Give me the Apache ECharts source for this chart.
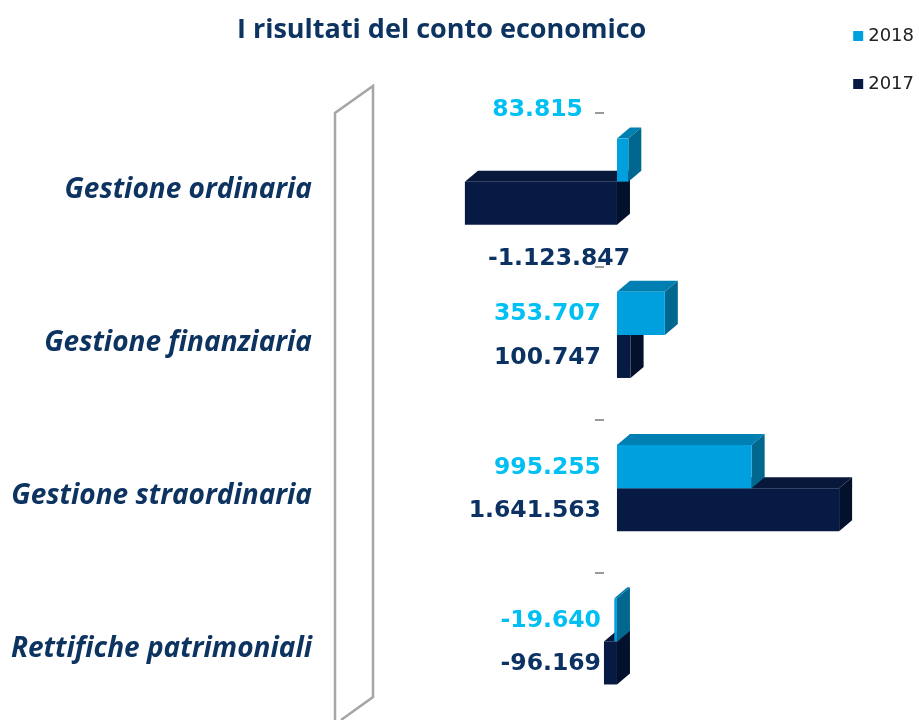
<!DOCTYPE html>
<html><head><meta charset="utf-8">
<script src="https://cdn.jsdelivr.net/npm/echarts@6/dist/echarts.min.js"></script>
<style>html,body{margin:0;padding:0;background:#fff}#c{width:919px;height:720px}</style>
</head><body><div id="c"></div>
<script>
const categories = ['Gestione ordinaria', 'Gestione finanziaria', 'Gestione straordinaria', 'Rettifiche patrimoniali'];
const seriesNames = ['2018', '2017'];
const values2018 = [83815, 353707, 995255, -19640];
const values2017 = [-1123847, 100747, 1641563, -96169];

const faces = {
  '2018': {front: '#00a0df', top: '#0080b2', side: '#00688f', label: '#00bff3'},
  '2017': {front: '#061a44', top: '#08183a', side: '#04112c', label: '#0c3263'}
};

function fmt(v) {
  const s = Math.abs(Math.round(v)).toString().replace(/\B(?=(\d{3})+(?!\d))/g, '.');
  return (v < 0 ? '-' : '') + s;
}

function makeRender(name, idx) {
  return function (params, api) {
    const v = api.value(0), i = api.value(1);
    const c0 = api.coord([0, i]);
    const c1 = api.coord([v, i]);
    const band = api.size([0, 1])[1];
    const h = band * 0.281, shift = band * 0.052;
    const top = idx === 0 ? c0[1] - shift - h : c0[1] - shift;
    const xl = Math.min(c0[0], c1[0]), xr = Math.max(c0[0], c1[0]);
    const dx = 13, dy = -11;
    const f = faces[name];
    const crowded = Math.min(values2018[i], values2017[i]) < -500000;
    let lx = c0[0] - 16, ly = top + h / 2 + 1, align = 'right';
    if (crowded) {
      if (idx === 0) { lx = c0[0] - 34; ly = top - 29; }
      else { lx = c0[0] - 58; ly = top + h + 34; align = 'center'; }
    }
    return {
      type: 'group',
      children: [
        {type: 'polygon', shape: {points: [[xl, top], [xl + dx, top + dy], [xr + dx, top + dy], [xr, top]]}, style: {fill: f.top}},
        {type: 'polygon', shape: {points: [[xr, top], [xr + dx, top + dy], [xr + dx, top + h + dy], [xr, top + h]]}, style: {fill: f.side}},
        {type: 'rect', shape: {x: xl, y: top, width: xr - xl, height: h}, style: {fill: f.front}},
        {type: 'text', x: lx, y: ly, style: {text: fmt(v), fill: f.label, font: 'bold 23.5px "DejaVu Sans"', align: align, verticalAlign: 'middle'}}
      ]
    };
  };
}

const chart = echarts.init(document.getElementById('c'));
chart.setOption({
  animation: false,
  title: {text: 'I risultati del conto economico', left: 232, top: 12,
    textStyle: {fontFamily: 'Open Sans', fontWeight: 'bold', fontSize: 27, color: '#0d3461'}},
  legend: {data: seriesNames, orient: 'vertical', right: 0, top: 22, itemGap: 30, itemWidth: 10, itemHeight: 10, icon: 'rect',
    textStyle: {fontFamily: 'DejaVu Sans', fontSize: 18, color: '#222'}},
  graphic: [{type: 'polyline', shape: {points: [[335, 722], [335, 113], [373, 86], [373, 697], [341, 720]]},
    style: {stroke: '#a6a6a6', lineWidth: 2.5, fill: null}, z: 0}],
  grid: {left: 373.4, right: 31.4, top: 113, height: 613, outerBoundsMode: 'none', containLabel: false},
  xAxis: {type: 'value', min: -1800000, max: 2000000, show: false},
  yAxis: {type: 'category', data: categories, inverse: true, position: 'left', offset: -230.6,
    axisLine: {show: false, onZero: false},
    axisTick: {show: true, length: 9, lineStyle: {color: '#999', width: 2}},
    axisLabel: {margin: 292, padding: [5, 0, 0, 0], fontFamily: 'Open Sans', fontStyle: 'italic', fontWeight: 'bold', fontSize: 28, color: '#0d3461'},
    splitLine: {show: false}},
  series: [
    {name: '2018', type: 'custom', z: 3, itemStyle: {color: '#00a0df'}, encode: {x: 0, y: 1},
      data: values2018.map((v, i) => [v, i]), renderItem: makeRender('2018', 0)},
    {name: '2017', type: 'custom', z: 2, itemStyle: {color: '#061a44'}, encode: {x: 0, y: 1},
      data: values2017.map((v, i) => [v, i]), renderItem: makeRender('2017', 1)}
  ]
});
</script></body></html>
